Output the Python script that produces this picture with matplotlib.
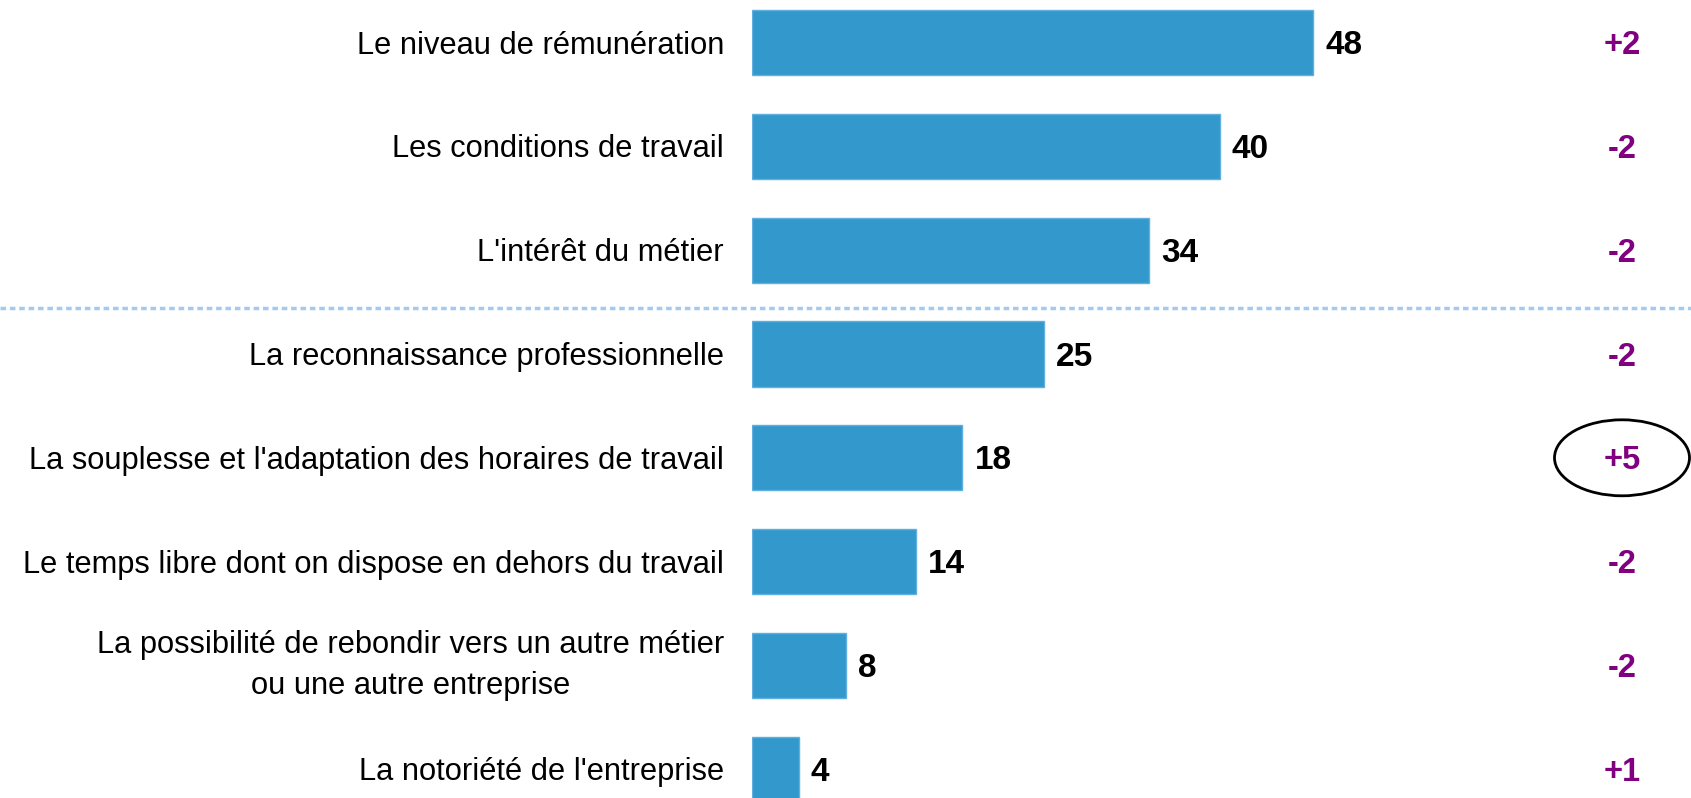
import matplotlib
matplotlib.use("Agg")
import matplotlib.pyplot as plt
from matplotlib.patches import Ellipse
from matplotlib.transforms import blended_transform_factory

categories = [
    "Le niveau de rémunération",
    "Les conditions de travail",
    "L'intérêt du métier",
    "La reconnaissance professionnelle",
    "La souplesse et l'adaptation des horaires de travail",
    "Le temps libre dont on dispose en dehors du travail",
    "La possibilité de rebondir vers un autre métier\nou une autre entreprise",
    "La notoriété de l'entreprise",
]
values = [48, 40, 34, 25, 18, 14, 8, 4]
deltas = ["+2", "-2", "-2", "-2", "+5", "-2", "-2", "+1"]
circled = 4  # index of the circled change

W, H, DPI = 1691, 798, 100
bar_color = "#3399cc"
purple = "#800080"

plt.rcParams["font.family"] = ["Liberation Sans", "DejaVu Sans"]

fig = plt.figure(figsize=(W / DPI, H / DPI), dpi=DPI)

# axes starts where the bars start, spans the rest of the picture
left_px = 752
px_per_unit = 11.69
row_px, first_px = 103.8, 42.6
ax = fig.add_axes([left_px / W, 0, 1 - left_px / W, 1])
ax.set_xlim(0, (W - left_px) / px_per_unit)
ax.set_ylim((H - first_px) / row_px, -first_px / row_px)
ax.axis("off")

ys = list(range(len(values)))
ax.barh(ys, values, height=0.63, color=bar_color, edgecolor="#5fb0de", linewidth=1)

for y, v, cat in zip(ys, values, categories):
    ax.annotate(str(v), (v, y), xytext=(12, -3), textcoords="offset pixels",
                ha="left", va="center", fontsize=24, fontweight="bold", color="black")
    dy = 0 if "\n" in cat else -3
    ax.annotate(cat, (0, y), xytext=(-28, dy), textcoords="offset pixels",
                ha="right", va="center", ma="center", fontsize=22.2, color="black",
                linespacing=1.45, annotation_clip=False)

delta_x = (1622 - left_px) / px_per_unit
for y, d in zip(ys, deltas):
    ax.annotate(d, (delta_x, y), xytext=(0, -3), textcoords="offset pixels",
                ha="center", va="center", fontsize=23.5,
                fontweight="bold", color=purple)
    if y == circled:
        ax.add_patch(Ellipse((delta_x, y), 135 / px_per_unit, 76 / row_px,
                             fill=False, edgecolor="black", linewidth=2, clip_on=False))

# dotted separator under the top three
sep_y = 2.56
tr = blended_transform_factory(fig.transFigure, ax.transData)
ax.plot([0, 1], [sep_y, sep_y], transform=tr, color="#a3cbf0", linewidth=2.5,
        linestyle=(0, (1.6, 1.1)), clip_on=False)

fig.savefig("out.png", dpi=DPI, facecolor="white")
